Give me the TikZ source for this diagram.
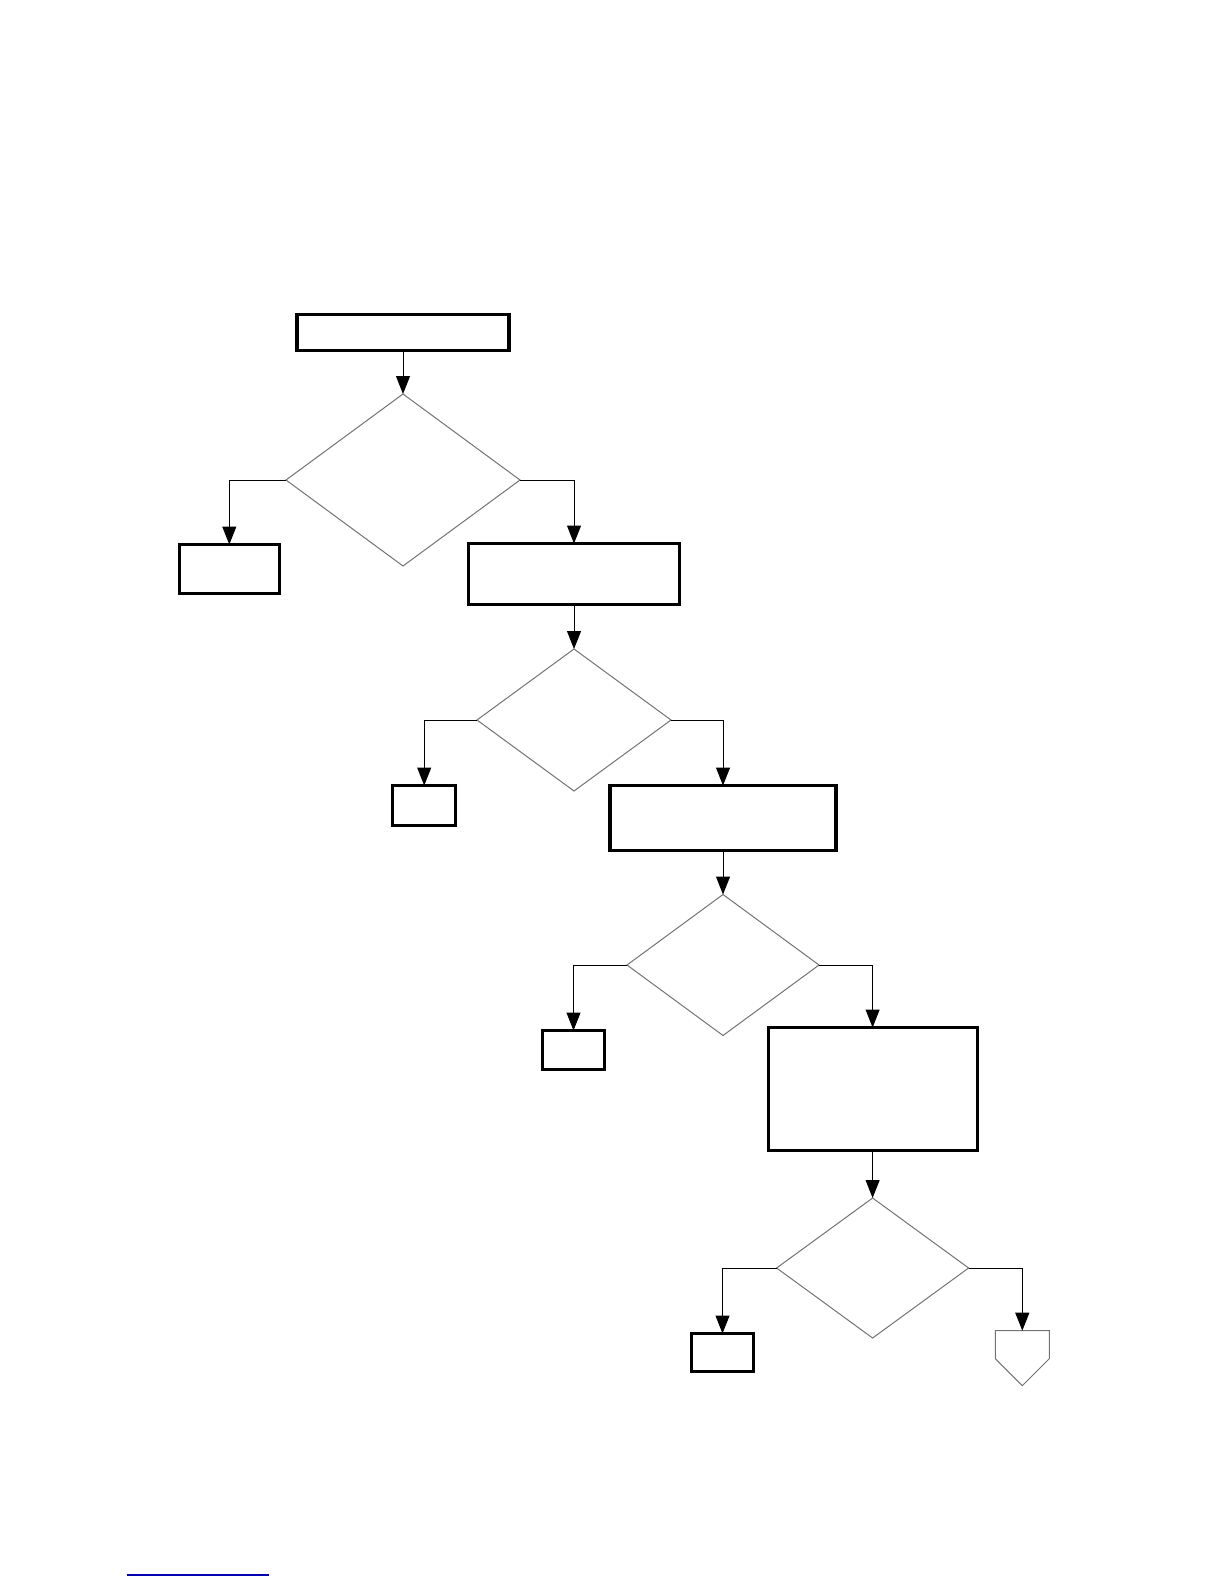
\documentclass[tikz,border=0pt]{standalone}
\usetikzlibrary{shapes.geometric,arrows.meta}
\begin{document}
\begin{tikzpicture}[x=0.5pt,y=-0.5pt,
  procbox/.style={draw=black,line width=1.6pt,rectangle,inner sep=0pt,outer sep=0pt,fill=white},
  decide/.style={draw=black!55,line width=0.5pt,diamond,inner sep=0pt,outer sep=0pt},
  conn/.style={draw=black,line width=0.5pt,-{Triangle[width=7pt,length=9pt]}}]
\useasboundingbox (0,0) rectangle (1224,1584);
% process boxes
\node[procbox,minimum width=106pt,minimum height=18pt] (b0) at (403,332.8) {};
\node[procbox,minimum width=50pt,minimum height=24.5pt] (b1) at (229.3,569) {};
\node[procbox,minimum width=105.5pt,minimum height=30.5pt] (b2) at (574,574) {};
\node[procbox,minimum width=31.5pt,minimum height=20pt] (b3) at (424.2,805.5) {};
\node[procbox,minimum width=113pt,minimum height=32.5pt] (b4) at (723,818) {};
\node[procbox,minimum width=31pt,minimum height=19.5pt] (b5) at (573.5,1050) {};
\node[procbox,minimum width=104.5pt,minimum height=61.5pt] (b6) at (872.6,1089) {};
\node[procbox,minimum width=31pt,minimum height=19pt] (b7) at (722.5,1352.5) {};
% decisions
\node[decide,minimum width=117pt,minimum height=86pt] (d1) at (403,480) {};
\node[decide,minimum width=97pt,minimum height=71pt] (d2) at (574,720) {};
\node[decide,minimum width=96pt,minimum height=70.5pt] (d3) at (723,965) {};
\node[decide,minimum width=96pt,minimum height=70pt] (d4) at (872.6,1268) {};
% off-page connector
\coordinate (off) at (1022.3,1330.7);
\draw[black!55,line width=0.5pt] (995.3,1330.7) -- (1049.3,1330.7) -- (1049.3,1358.7) -- (1022.3,1385.7) -- (995.3,1358.7) -- cycle;
% connectors
\draw[conn] (b0.south) -- (d1.north);
\draw[conn] (d1.west) -| (b1.north);
\draw[conn] (d1.east) -| (b2.north);
\draw[conn] (b2.south) -- (d2.north);
\draw[conn] (d2.west) -| (b3.north);
\draw[conn] (d2.east) -| (b4.north);
\draw[conn] (b4.south) -- (d3.north);
\draw[conn] (d3.west) -| (b5.north);
\draw[conn] (d3.east) -| (b6.north);
\draw[conn] (b6.south) -- (d4.north);
\draw[conn] (d4.west) -| (b7.north);
\draw[conn] (d4.east) -| (off);
% footer rule
\draw[blue!70!black,line width=0.8pt] (126.7,1575) -- (269,1575);
\end{tikzpicture}
\end{document}
